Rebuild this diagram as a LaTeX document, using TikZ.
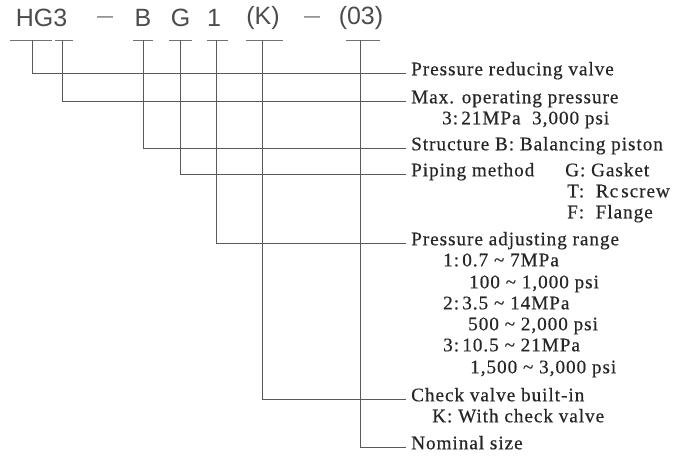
\documentclass[tikz,border=0pt]{standalone}
\usepackage{fontspec}
\setmainfont{Liberation Serif}
\newfontfamily\labfont[LetterSpace=5,FakeBold=0.5]{Liberation Serif}
\newfontfamily\codefont{Liberation Sans}
\begin{document}
\begin{tikzpicture}[x=1pt,y=-1pt,
  codetxt/.style={inner sep=0pt,font=\codefont\fontsize{25}{25}\selectfont,text=black!70},
  dashtxt/.style={inner sep=0pt,font=\codefont\fontsize{16}{16}\selectfont,text=black!70},
  labtxt/.style={inner sep=0pt,anchor=mid west,font=\labfont\fontsize{19.2}{19.2}\selectfont,text=black!85},
  leader/.style={draw=black!65,line width=0.9pt},
  uline/.style={draw=black!55,line width=1pt}]
\useasboundingbox (0,0) rectangle (675,458);
% code
\node[codetxt] (cHG) at (41.5,18) {HG3};
\node[dashtxt] (cd1) at (105,19) {—};
\node[codetxt] (cB) at (143,18) {B};
\node[codetxt] (cG) at (180.5,18) {G};
\node[codetxt] (c1) at (214,18) {1};
\node[codetxt] (cK) at (263,18) {(K)};
\node[dashtxt] (cd2) at (312,19) {—};
\node[codetxt] (c03) at (361,18) {(03)};
% underlines
\draw[uline] (10,40) -- (52,40);
\draw[uline] (55,40) -- (73,40);
\draw[uline] (133,40) -- (153,40);
\draw[uline] (169,40) -- (192,40);
\draw[uline] (207,40) -- (228,40);
\draw[uline] (246,40) -- (283,40);
\draw[uline] (346,40) -- (380,40);
\coordinate (uHG) at (32,40);
\coordinate (u3) at (62,40);
\coordinate (uB) at (143,40);
\coordinate (uG) at (180,40);
\coordinate (u1) at (216,40);
\coordinate (uK) at (262,40);
\coordinate (u03) at (360,40);
% labels
\node[labtxt] (l1) at (411,73) {Pressure reducing valve};
\node[labtxt] (l2) at (411,101) {Max. operating pressure};
\node[labtxt] (l2a) at (442,122) {3:\,21MPa\ \ 3,000 psi};
\node[labtxt] (l3) at (411,148) {Structure B: Balancing piston};
\node[labtxt] (l4) at (411,174) {Piping method};
\node[labtxt] (l4a) at (565,174) {G:\ Gasket};
\node[labtxt] (l4b) at (567,195) {T:\ \ Rc\,screw};
\node[labtxt] (l4c) at (567,216) {F:\ \ Flange};
\node[labtxt] (l5) at (411,243) {Pressure adjusting range};
\node[labtxt] (l5a) at (443,264) {1:\,0.7\ \string~\ 7MPa};
\node[labtxt] (l5b) at (469,286) {100\ \string~\ 1,000 psi};
\node[labtxt] (l5c) at (443,307) {2:\,3.5\ \string~\ 14MPa};
\node[labtxt] (l5d) at (468,328) {500\ \string~\ 2,000 psi};
\node[labtxt] (l5e) at (443,349) {3:\,10.5\ \string~\ 21MPa};
\node[labtxt] (l5f) at (470,371) {1,500\ \string~\ 3,000 psi};
\node[labtxt] (l6) at (411,399) {Check valve built-in};
\node[labtxt] (l6a) at (432,420) {K: With check valve};
\node[labtxt] (l7) at (411,447) {Nominal size};
% leaders
\draw[leader] (uHG) |- ([xshift=-5pt]l1.mid west);
\draw[leader] (u3) |- ([xshift=-5pt]l2.mid west);
\draw[leader] (uB) |- ([xshift=-5pt]l3.mid west);
\draw[leader] (uG) |- ([xshift=-5pt]l4.mid west);
\draw[leader] (u1) |- ([xshift=-5pt]l5.mid west);
\draw[leader] (uK) |- ([xshift=-5pt]l6.mid west);
\draw[leader] (u03) |- ([xshift=-5pt]l7.mid west);
\end{tikzpicture}
\end{document}
